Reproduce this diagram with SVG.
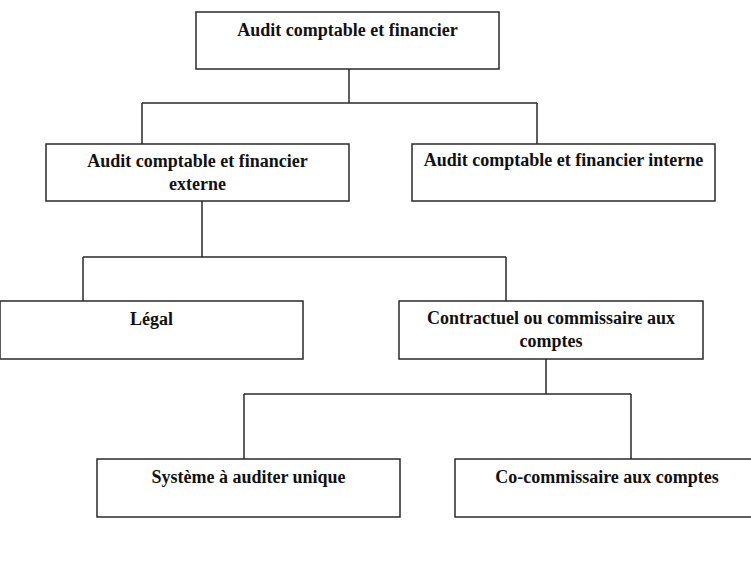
<svg xmlns="http://www.w3.org/2000/svg" width="751" height="577" viewBox="0 0 751 577">
<style>
.box{fill:#fff;stroke:#2a2a2a;stroke-width:1.5}
.ln{fill:none;stroke:#2a2a2a;stroke-width:1.5}
text{font-family:"Liberation Serif","Times New Roman",serif;font-weight:bold;font-size:18px;fill:#111;text-anchor:middle}
</style>
<rect width="751" height="577" fill="#fff"/>
<g id="connectors">
<path class="ln" d="M349,69V103M142,103H537M142,103V144M537,103V144"/>
<path class="ln" d="M202,201V257M83,257H506M83,257V301M506,257V301"/>
<path class="ln" d="M546,359V394M244,394H631M244,394V459M631,394V459"/>
</g>
<g id="n-root"><rect class="box" x="196" y="12" width="303" height="57"/><text x="347.5" y="36">Audit comptable et financier</text></g>
<g id="n-externe"><rect class="box" x="46" y="144" width="303" height="57"/><text x="197.5" y="167">Audit comptable et financier</text><text x="197.5" y="190">externe</text></g>
<g id="n-interne"><rect class="box" x="412" y="144" width="303" height="57"/><text x="563.5" y="166">Audit comptable et financier interne</text></g>
<g id="n-legal"><rect class="box" x="0" y="301" width="303" height="58"/><text x="151.5" y="325">Légal</text></g>
<g id="n-contractuel"><rect class="box" x="399" y="301" width="304" height="58"/><text x="551" y="324">Contractuel ou commissaire aux</text><text x="551" y="347">comptes</text></g>
<g id="n-systeme"><rect class="box" x="97" y="459" width="303" height="58"/><text x="248.5" y="483">Système à auditer unique</text></g>
<g id="n-cocommissaire"><rect class="box" x="455" y="459" width="304" height="58"/><text x="607" y="483">Co-commissaire aux comptes</text></g>
</svg>
